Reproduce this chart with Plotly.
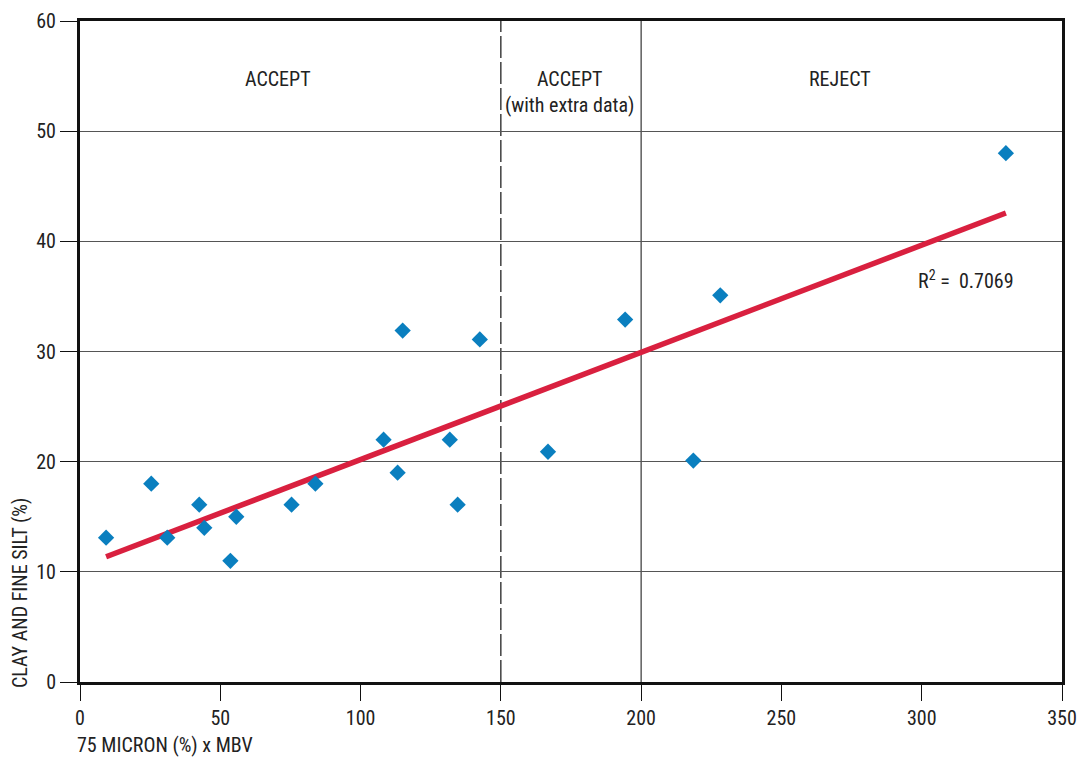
import numpy as np
import plotly.graph_objects as go

# Data
mbv_x = [9.3, 25.4, 31.1, 42.5, 44.3, 53.6, 55.7, 75.4, 83.9, 108.2,
         113.2, 115.0, 131.8, 134.6, 142.5, 166.8, 194.3, 218.6, 228.2, 330.0]
clay_y = [13.1, 18.0, 13.1, 16.1, 14.0, 11.0, 15.0, 16.1, 18.0, 22.0,
          19.0, 31.9, 22.0, 16.1, 31.1, 20.9, 32.9, 20.1, 35.1, 48.0]
x_ticks = [0, 50, 100, 150, 200, 250, 300, 350]
y_ticks = [0, 10, 20, 30, 40, 50, 60]
zone_labels = ["ACCEPT", "ACCEPT<br>(with extra data)", "REJECT"]
zone_x = [70.6, 174.6, 270.8]
zone_y = [54.7, 53.6, 54.7]
r2_text = "R<sup>2</sup> =  0.7069"

FONT = "Liberation Sans Narrow, Roboto Condensed, Arial Narrow, sans-serif"

xa = np.array(mbv_x)
ya = np.array(clay_y)
slope, intercept = np.polyfit(xa, ya, 1)
fit_x = np.array([xa.min(), xa.max()])
fit_y = slope * fit_x + intercept

fig = go.Figure()
fig.add_trace(go.Scatter(x=fit_x, y=fit_y, mode="lines",
                         line=dict(color="#D9203F", width=5.5), showlegend=False))
fig.add_trace(go.Scatter(x=mbv_x, y=clay_y, mode="markers",
                         marker=dict(symbol="diamond", size=12.5, color="#0A7FBF"),
                         showlegend=False))

fig.add_vline(x=150, line=dict(color="#111", width=1.2, dash="22px,4px"), layer="below")
fig.add_vline(x=200, line=dict(color="#444", width=1.3), layer="below")

for t, x, y in zip(zone_labels, zone_x, zone_y):
    fig.add_annotation(x=x, y=y, text=t, showarrow=False,
                       font=dict(family=FONT, size=20, color="#222"))
fig.add_annotation(x=315.8, y=36.5, text=r2_text, showarrow=False,
                   font=dict(family=FONT, size=20, color="#222"))

fig.add_annotation(xref="paper", yref="paper", x=-0.005, y=-0.095,
                   xanchor="left", yanchor="middle", text="75 MICRON (%) x MBV",
                   showarrow=False, font=dict(family=FONT, size=20, color="#222"))
fig.add_annotation(xref="paper", yref="paper", x=-0.061, y=-0.012,
                   xanchor="center", yanchor="bottom", textangle=-90,
                   text="CLAY AND FINE SILT (%)",
                   showarrow=False, font=dict(family=FONT, size=20, color="#222"))

fig.update_xaxes(range=[0, 350], tickvals=x_ticks, showgrid=False, zeroline=False,
                 showline=True, mirror=True, linecolor="#111", linewidth=3,
                 ticks="outside", ticklen=16, tickwidth=1, tickcolor="#111",
                 automargin=False,
                 tickfont=dict(family=FONT, size=20, color="#222"))
fig.update_yaxes(range=[0, 60], tickvals=y_ticks, showgrid=True, gridcolor="#555",
                 gridwidth=1.2, zeroline=False,
                 showline=True, mirror=True, linecolor="#111", linewidth=3,
                 ticks="outside", ticklen=17, tickwidth=1, tickcolor="#111",
                 automargin=False,
                 tickfont=dict(family=FONT, size=20, color="#222"))

fig.update_layout(width=1082, height=760, paper_bgcolor="white", plot_bgcolor="white",
                  margin=dict(l=80, r=20, t=21, b=78, autoexpand=False), showlegend=False)

fig.write_html("out.html")
